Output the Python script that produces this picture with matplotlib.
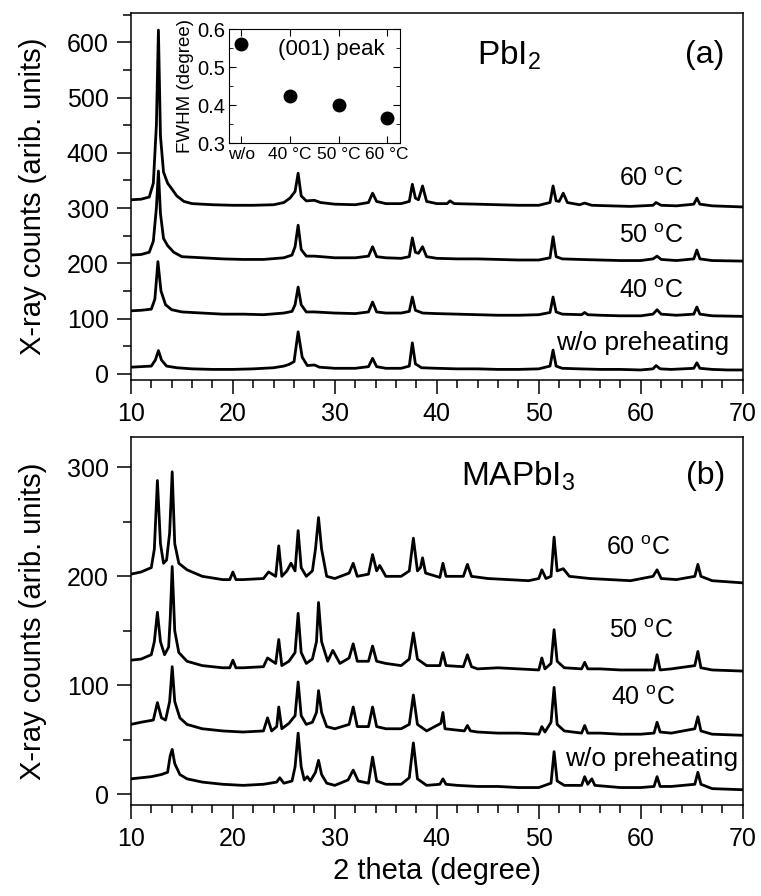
import matplotlib.pyplot as plt
from matplotlib.ticker import MultipleLocator

plt.rcParams['font.family'] = ['Liberation Sans', 'DejaVu Sans']
plt.rcParams['mathtext.default'] = 'regular'

# (2 theta, counts) points, panel (a)
pbi2_wo = [(10, 12), (11, 13), (12, 14), (12.4, 25), (12.7, 42), (13.0, 25), (13.5, 14), (14.5, 11),
           (16, 9), (18, 8), (20, 8), (22, 9), (24, 11), (25, 14), (25.5, 17), (26.0, 22), (26.4, 76),
           (26.8, 30), (27.3, 15), (28, 16), (28.5, 12), (30, 10), (32, 10), (33.3, 13), (33.7, 28),
           (34.1, 13), (35, 10), (36.5, 10), (37.3, 14), (37.6, 56), (37.9, 18), (38.5, 11), (40, 10),
           (42, 9), (44, 9), (46, 8), (48, 8), (50, 9), (51.1, 14), (51.4, 43), (51.7, 14), (52.3, 10),
           (54, 9), (56, 8), (58, 8), (60, 7), (61.2, 9), (61.5, 15), (61.9, 9), (63, 8), (65.2, 10),
           (65.5, 20), (65.8, 10), (67, 8), (68.5, 7), (70, 7)]
pbi2_40 = [(10, 114), (11, 115), (12, 117), (12.35, 135), (12.65, 203), (12.95, 150), (13.4, 125),
           (14, 116), (15, 112), (17, 110), (19, 108), (21, 108), (23, 107), (25, 110), (25.8, 113),
           (26.1, 125), (26.4, 157), (26.7, 125), (27.2, 112), (28, 112), (30, 110), (32, 109),
           (33.3, 112), (33.7, 130), (34.1, 112), (35, 110), (36.5, 110), (37.3, 113), (37.6, 139),
           (37.9, 115), (38.6, 110), (40, 109), (42, 108), (44, 107), (46, 106), (48, 106), (50, 107),
           (51.1, 111), (51.4, 139), (51.7, 112), (52.3, 108), (54.2, 107), (54.5, 111), (54.8, 107),
           (56, 106), (58, 105), (60, 105), (61.2, 108), (61.6, 116), (62, 108), (63.5, 106),
           (65.2, 108), (65.5, 121), (65.8, 108), (67, 105), (70, 104)]
pbi2_50 = [(10, 215), (11, 216), (11.8, 220), (12.2, 240), (12.5, 300), (12.7, 367), (12.9, 290),
           (13.2, 245), (13.6, 232), (14.2, 220), (15, 212), (17, 210), (19, 208), (21, 207), (23, 207),
           (25, 210), (25.8, 215), (26.1, 230), (26.4, 269), (26.7, 225), (27.2, 213), (28, 213),
           (30, 210), (32, 210), (33.3, 213), (33.7, 230), (34.1, 212), (35, 210), (36.5, 209),
           (37.3, 212), (37.6, 246), (37.9, 220), (38.2, 218), (38.6, 230), (39.0, 212), (40, 209),
           (42, 208), (44, 208), (46, 207), (48, 206), (50, 206), (51.1, 210), (51.4, 248), (51.7, 212),
           (52.3, 208), (54, 207), (56, 206), (58, 205), (60, 205), (61.2, 208), (61.6, 213), (62, 207),
           (63.5, 205), (65.2, 208), (65.5, 224), (65.8, 208), (67, 205), (70, 204)]
pbi2_60 = [(10, 315), (11, 316), (11.8, 320), (12.2, 345), (12.5, 450), (12.7, 622), (12.9, 430),
           (13.2, 365), (13.6, 345), (14.0, 335), (14.5, 322), (15.2, 312), (16, 308), (18, 306),
           (20, 305), (22, 305), (24, 306), (25, 310), (25.6, 318), (26.1, 330), (26.4, 363), (26.7, 322),
           (27.2, 313), (28, 314), (28.6, 310), (30, 307), (32, 306), (33.3, 310), (33.7, 327),
           (34.1, 312), (35, 308), (36.5, 308), (37.3, 312), (37.6, 343), (37.9, 318), (38.2, 315),
           (38.6, 340), (39.0, 312), (40, 308), (41.0, 308), (41.3, 313), (41.7, 308), (44, 307),
           (46, 306), (48, 305), (50, 305), (51.1, 310), (51.4, 340), (51.7, 313), (52.0, 312),
           (52.4, 327), (52.8, 310), (54, 306), (54.5, 309), (55.2, 305), (57, 304), (59, 303),
           (61.2, 305), (61.5, 310), (62, 305), (63.5, 304), (65.2, 307), (65.5, 318), (65.8, 307),
           (67, 304), (70, 302)]

# (2 theta, counts) points, panel (b)
mapbi3_wo = [(10, 14), (11, 15), (12, 16), (13, 18), (13.6, 20), (13.85, 35), (14.05, 41), (14.3, 28),
             (14.8, 18), (15.5, 14), (17, 11), (19, 9), (21, 8), (23, 9), (24.3, 11), (24.6, 15),
             (25, 10), (25.8, 12), (26.1, 25), (26.4, 56), (26.7, 25), (27.0, 13), (27.3, 16),
             (27.6, 12), (28.1, 20), (28.4, 31), (28.7, 18), (29.2, 10), (30, 8), (31.3, 13), (31.8, 22),
             (32.3, 12), (33.3, 10), (33.7, 34), (34.1, 12), (35, 9), (36.5, 9), (37.3, 15), (37.7, 47),
             (38.1, 14), (39, 8), (40.3, 9), (40.6, 14), (40.9, 9), (42, 8), (44, 7), (46, 7), (48, 6),
             (50, 6), (51.2, 10), (51.5, 39), (51.8, 12), (52.5, 8), (54.2, 8), (54.5, 16), (54.8, 9),
             (55.2, 14), (55.5, 8), (58, 6), (60, 6), (61.3, 7), (61.6, 16), (61.9, 7), (63, 7),
             (65.3, 9), (65.6, 20), (65.9, 9), (67, 5), (70, 4)]
mapbi3_40 = [(10, 64), (11, 66), (12.2, 68), (12.6, 84), (13.0, 70), (13.4, 68), (13.8, 85), (14.05, 117),
             (14.3, 85), (14.8, 70), (15.5, 64), (17, 60), (19, 58), (21, 57), (23, 58), (23.4, 70),
             (23.8, 58), (24.3, 62), (24.5, 80), (24.8, 60), (25.5, 65), (26.1, 72), (26.4, 103),
             (26.7, 72), (27.2, 64), (27.8, 66), (28.2, 75), (28.4, 95), (28.7, 75), (29.2, 62), (30, 60),
             (31.4, 64), (31.8, 80), (32.2, 62), (33.3, 62), (33.7, 80), (34.1, 62), (35, 60), (36.5, 60),
             (37.3, 64), (37.7, 91), (38.1, 64), (39, 58), (40.4, 65), (40.6, 75), (40.8, 60), (42.7, 58),
             (43, 63), (43.3, 58), (44, 57), (46, 56), (48, 56), (50, 55), (50.3, 62), (50.6, 57),
             (51.2, 66), (51.5, 98), (51.8, 64), (52.5, 58), (54.2, 56), (54.5, 63), (54.8, 56), (56, 56),
             (58, 55), (60, 55), (61.3, 56), (61.6, 66), (61.9, 57), (63, 56), (65.3, 60), (65.6, 71),
             (65.9, 58), (67, 55), (70, 54)]
mapbi3_50 = [(10, 123), (11, 124), (12.0, 128), (12.3, 140), (12.6, 167), (12.9, 140), (13.3, 128),
             (13.7, 135), (13.85, 160), (14.05, 209), (14.3, 150), (14.7, 130), (15.5, 122), (17, 118),
             (19, 116), (19.7, 116), (20, 123), (20.3, 116), (21, 116), (23, 117), (23.4, 125),
             (24.2, 120), (24.5, 142), (24.8, 118), (25.5, 122), (26.1, 130), (26.4, 166), (26.7, 130),
             (27.2, 120), (27.8, 124), (28.2, 140), (28.4, 176), (28.7, 140), (29.3, 122), (29.8, 132),
             (30.5, 120), (31.4, 125), (31.8, 138), (32.2, 122), (33.3, 122), (33.7, 136), (34.1, 122),
             (35, 120), (36.5, 118), (37.3, 124), (37.7, 148), (38.1, 124), (39, 118), (40.3, 118),
             (40.6, 130), (40.9, 118), (42.6, 117), (43, 128), (43.4, 117), (44, 115), (46, 116),
             (48, 115), (50, 114), (50.3, 125), (50.6, 115), (51.2, 120), (51.5, 151), (51.8, 122),
             (52.5, 116), (54.2, 115), (54.5, 121), (54.8, 115), (56, 115), (58, 114), (60, 114),
             (61.3, 114), (61.6, 128), (61.9, 114), (63, 115), (65.3, 118), (65.6, 131), (65.9, 116),
             (67, 114), (70, 113)]
mapbi3_60 = [(10, 202), (11, 204), (12.0, 208), (12.3, 225), (12.6, 288), (12.9, 230), (13.2, 212),
             (13.5, 215), (13.8, 240), (14.05, 296), (14.3, 230), (14.7, 212), (15.5, 206), (17, 200),
             (19, 197), (19.7, 197), (20, 204), (20.3, 197), (21, 197), (23, 198), (23.5, 204),
             (24.2, 200), (24.5, 228), (24.8, 200), (25.3, 205), (25.7, 212), (26.1, 205), (26.4, 242),
             (26.7, 208), (27.2, 200), (27.8, 205), (28.1, 225), (28.4, 254), (28.7, 225), (29.2, 200),
             (30, 198), (31.4, 203), (31.8, 212), (32.2, 200), (33.3, 202), (33.7, 220), (34.1, 205),
             (34.4, 210), (35, 200), (36.5, 200), (37.3, 205), (37.7, 235), (38.1, 205), (38.4, 208),
             (38.6, 217), (38.9, 203), (40.3, 199), (40.6, 212), (40.9, 200), (42.6, 200), (43.0, 211),
             (43.4, 200), (45, 198), (47, 197), (49, 196), (50.0, 198), (50.3, 206), (50.7, 198),
             (51.2, 200), (51.5, 236), (51.8, 205), (52.4, 207), (53, 200), (55, 198), (57, 197),
             (59, 196), (61.2, 200), (61.6, 206), (62, 198), (63.5, 197), (65.3, 200), (65.6, 211),
             (65.9, 200), (67, 196), (70, 194)]

sample_labels = ['w/o preheating', '40 $^{o}$C', '50 $^{o}$C', '60 $^{o}$C']

# inset: FWHM of the PbI2 (001) peak
fwhm_labels = ['w/o', '40 °C', '50 °C', '60 °C']
fwhm_values = [0.56, 0.424, 0.40, 0.366]

fig = plt.figure(figsize=(7.61, 8.96), dpi=100)
ax1 = fig.add_axes([0.172, 0.576, 0.804, 0.4095])
ax2 = fig.add_axes([0.172, 0.1016, 0.804, 0.4107])


def style_axis(ax):
    ax.set_xlim(10, 70)
    ax.xaxis.set_major_locator(MultipleLocator(10))
    ax.xaxis.set_minor_locator(MultipleLocator(2))
    ax.yaxis.set_major_locator(MultipleLocator(100))
    ax.yaxis.set_minor_locator(MultipleLocator(50))
    ax.tick_params(which='major', direction='out', length=10, width=1.1, labelsize=18, pad=6)
    ax.tick_params(which='minor', direction='out', length=5.5, width=1.1)
    ax.set_ylabel('X-ray counts (arib. units)', fontsize=21, labelpad=14)
    for s in ax.spines.values():
        s.set_linewidth(1.1)


def label_curves(ax, positions):
    for lab, (lx, ly) in zip(sample_labels, positions):
        ax.text(lx, ly, lab, fontsize=19 if lab.startswith('w/o') else 18, ha='center', va='center')


for pts in [pbi2_wo, pbi2_40, pbi2_50, pbi2_60]:
    x, y = zip(*pts)
    ax1.plot(x, y, color='black', lw=2.0)
style_axis(ax1)
ax1.set_ylim(-11, 653)
ax1.text(47.1, 577, 'PbI$_2$', fontsize=24, ha='center', va='center')
ax1.text(66.3, 577, '(a)', fontsize=23, ha='center', va='center')
label_curves(ax1, [(60.2, 56), (61.0, 150), (61.0, 250), (61.0, 352)])

for pts in [mapbi3_wo, mapbi3_40, mapbi3_50, mapbi3_60]:
    x, y = zip(*pts)
    ax2.plot(x, y, color='black', lw=2.0)
style_axis(ax2)
ax2.set_ylim(-10, 328)
ax2.set_xlabel('2 theta (degree)', fontsize=21, labelpad=4)
ax2.text(48.0, 292, 'MAPbI$_3$', fontsize=24, ha='center', va='center')
ax2.text(66.4, 292, '(b)', fontsize=23, ha='center', va='center')
label_curves(ax2, [(61.1, 32), (60.2, 88), (60.0, 150), (59.8, 226)])

# inset
ins = fig.add_axes([0.301, 0.8404, 0.225, 0.1272])
ins.plot(range(len(fwhm_values)), fwhm_values, 'o', color='black', markersize=9)
ins.set_xlim(-0.25, 3.27)
ins.set_ylim(0.3, 0.6)
ins.set_xticks(range(len(fwhm_labels)))
ins.set_xticklabels(fwhm_labels, fontsize=12.5)
ins.yaxis.set_major_locator(MultipleLocator(0.1))
ins.yaxis.set_minor_locator(MultipleLocator(0.05))
ins.tick_params(which='both', direction='in', top=True, right=True, pad=3)
ins.tick_params(axis='y', labelsize=14.5)
ins.tick_params(which='major', length=5)
ins.tick_params(which='minor', length=3)
ins.set_ylabel('FWHM (degree)', fontsize=13.5, labelpad=2)
ins.text(1.85, 0.545, '(001) peak', fontsize=16, ha='center', va='center')

fig.savefig('out.png', dpi=100)
